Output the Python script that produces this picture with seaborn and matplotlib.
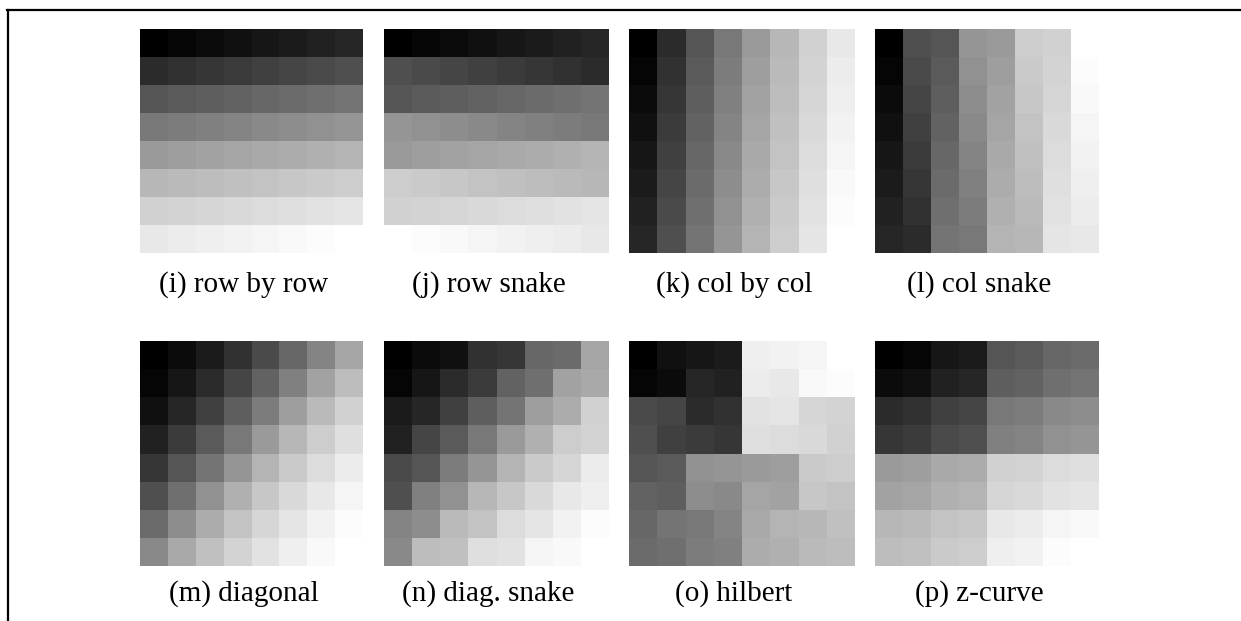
import matplotlib
matplotlib.use("Agg")
import matplotlib.pyplot as plt
from matplotlib.colors import LinearSegmentedColormap
from matplotlib.lines import Line2D
import numpy as np
import seaborn as sns

# ---- data: visiting order of each cell of an 8x8 grid ----
row_by_row = [
    [0, 1, 2, 3, 4, 5, 6, 7],
    [8, 9, 10, 11, 12, 13, 14, 15],
    [16, 17, 18, 19, 20, 21, 22, 23],
    [24, 25, 26, 27, 28, 29, 30, 31],
    [32, 33, 34, 35, 36, 37, 38, 39],
    [40, 41, 42, 43, 44, 45, 46, 47],
    [48, 49, 50, 51, 52, 53, 54, 55],
    [56, 57, 58, 59, 60, 61, 62, 63],
]
row_snake = [
    [0, 1, 2, 3, 4, 5, 6, 7],
    [15, 14, 13, 12, 11, 10, 9, 8],
    [16, 17, 18, 19, 20, 21, 22, 23],
    [31, 30, 29, 28, 27, 26, 25, 24],
    [32, 33, 34, 35, 36, 37, 38, 39],
    [47, 46, 45, 44, 43, 42, 41, 40],
    [48, 49, 50, 51, 52, 53, 54, 55],
    [63, 62, 61, 60, 59, 58, 57, 56],
]
col_by_col = [
    [0, 8, 16, 24, 32, 40, 48, 56],
    [1, 9, 17, 25, 33, 41, 49, 57],
    [2, 10, 18, 26, 34, 42, 50, 58],
    [3, 11, 19, 27, 35, 43, 51, 59],
    [4, 12, 20, 28, 36, 44, 52, 60],
    [5, 13, 21, 29, 37, 45, 53, 61],
    [6, 14, 22, 30, 38, 46, 54, 62],
    [7, 15, 23, 31, 39, 47, 55, 63],
]
col_snake = [
    [0, 15, 16, 31, 32, 47, 48, 63],
    [1, 14, 17, 30, 33, 46, 49, 62],
    [2, 13, 18, 29, 34, 45, 50, 61],
    [3, 12, 19, 28, 35, 44, 51, 60],
    [4, 11, 20, 27, 36, 43, 52, 59],
    [5, 10, 21, 26, 37, 42, 53, 58],
    [6, 9, 22, 25, 38, 41, 54, 57],
    [7, 8, 23, 24, 39, 40, 55, 56],
]
diagonal = [
    [0, 2, 5, 9, 14, 20, 27, 35],
    [1, 4, 8, 13, 19, 26, 34, 42],
    [3, 7, 12, 18, 25, 33, 41, 48],
    [6, 11, 17, 24, 32, 40, 47, 53],
    [10, 16, 23, 31, 39, 46, 52, 57],
    [15, 22, 30, 38, 45, 51, 56, 60],
    [21, 29, 37, 44, 50, 55, 59, 62],
    [28, 36, 43, 49, 54, 58, 61, 63],
]
diag_snake = [
    [0, 2, 3, 9, 10, 20, 21, 35],
    [1, 4, 8, 11, 19, 22, 34, 36],
    [5, 7, 12, 18, 23, 33, 37, 48],
    [6, 13, 17, 24, 32, 38, 47, 49],
    [14, 16, 25, 31, 39, 46, 50, 57],
    [15, 26, 30, 40, 45, 51, 56, 58],
    [27, 29, 41, 44, 52, 55, 59, 62],
    [28, 42, 43, 53, 54, 60, 61, 63],
]
hilbert = [
    [0, 3, 4, 5, 58, 59, 60, 63],
    [1, 2, 7, 6, 57, 56, 61, 62],
    [14, 13, 8, 9, 54, 55, 50, 49],
    [15, 12, 11, 10, 53, 52, 51, 48],
    [16, 17, 30, 31, 32, 33, 46, 47],
    [19, 18, 29, 28, 35, 34, 45, 44],
    [20, 23, 24, 27, 36, 39, 40, 43],
    [21, 22, 25, 26, 37, 38, 41, 42],
]
z_curve = [
    [0, 1, 4, 5, 16, 17, 20, 21],
    [2, 3, 6, 7, 18, 19, 22, 23],
    [8, 9, 12, 13, 24, 25, 28, 29],
    [10, 11, 14, 15, 26, 27, 30, 31],
    [32, 33, 36, 37, 48, 49, 52, 53],
    [34, 35, 38, 39, 50, 51, 54, 55],
    [40, 41, 44, 45, 56, 57, 60, 61],
    [42, 43, 46, 47, 58, 59, 62, 63],
]

labels = ["(i) row by row", "(j) row snake", "(k) col by col", "(l) col snake",
          "(m) diagonal", "(n) diag. snake", "(o) hilbert", "(p) z-curve"]
grids = [row_by_row, row_snake, col_by_col, col_snake,
         diagonal, diag_snake, hilbert, z_curve]

# grey level seen at order 0, 8, 16, ..., 56, 63
gray_levels = [0, 44, 85, 120, 154, 183, 208, 232, 255]
gray_pos = [0, 8, 16, 24, 32, 40, 48, 56, 63]

cmap = LinearSegmentedColormap.from_list(
    "order_gray",
    [(p / 63.0, (g / 255.0,) * 3) for p, g in zip(gray_pos, gray_levels)])

W, H = 1241, 621
fig = plt.figure(figsize=(W / 100, H / 100), dpi=100)
fig.patch.set_facecolor("white")

col_x = [(140, 363), (384, 609), (629, 855), (875, 1099)]
row_y = [(29, 253), (341, 566)]
label_y = [285, 594]

for i, (grid, lab) in enumerate(zip(grids, labels)):
    r, c = divmod(i, 4)
    x0, x1 = col_x[c]
    y0, y1 = row_y[r]
    ax = fig.add_axes([x0 / W, 1 - y1 / H, (x1 - x0) / W, (y1 - y0) / H])
    sns.heatmap(np.array(grid), ax=ax, cmap=cmap, vmin=0, vmax=63,
                cbar=False, xticklabels=False, yticklabels=False,
                linewidths=0)
    ax.axis("off")
    fig.text(((x0 + x1) / 2 - 8) / W, 1 - label_y[r] / H, lab,
             ha="center", va="center", fontsize=21,
             family=["Liberation Serif", "DejaVu Serif"])

# frame lines
fig.add_artist(Line2D([7 / W, 1.0], [1 - 10 / H, 1 - 10 / H],
                      transform=fig.transFigure, color="black", lw=1.6))
fig.add_artist(Line2D([8 / W, 8 / W], [1 - 10 / H, 0.0],
                      transform=fig.transFigure, color="black", lw=1.6))

fig.savefig("out.png", dpi=100, facecolor="white")
